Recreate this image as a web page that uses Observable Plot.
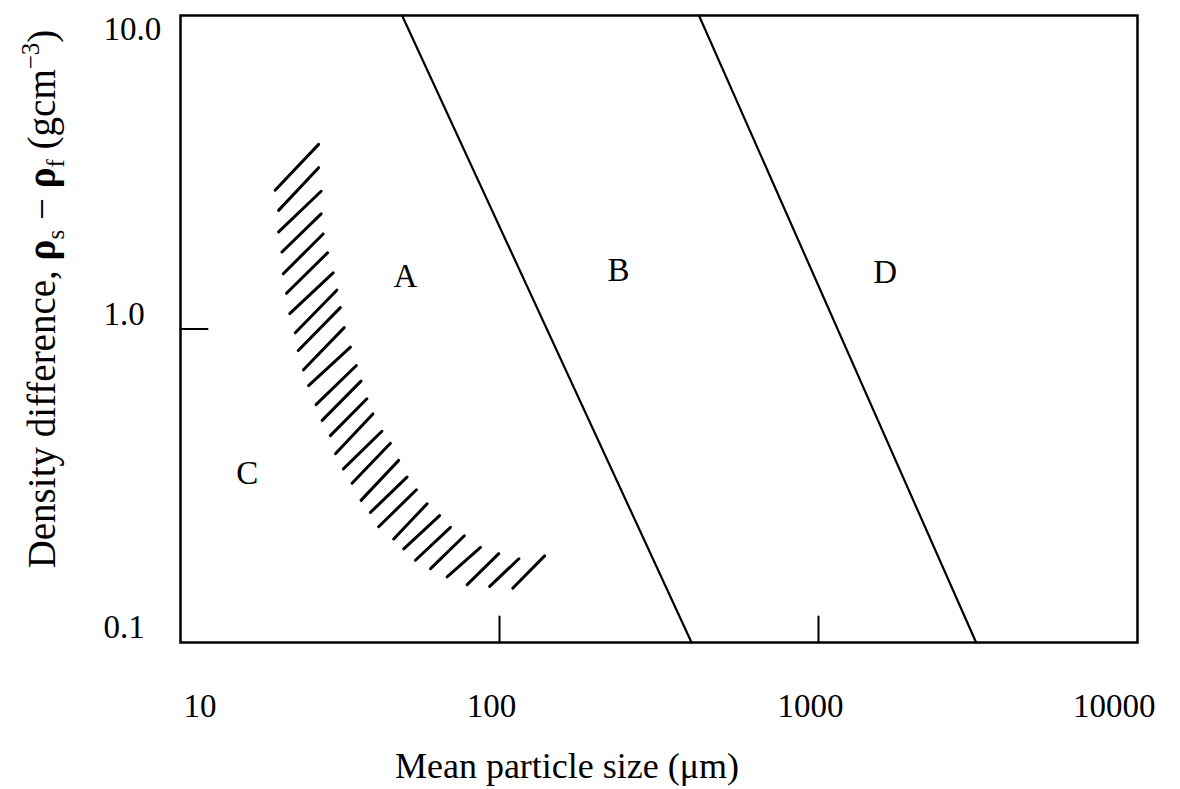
<!DOCTYPE html>
<html><head><meta charset="utf-8">
<script src="https://cdn.jsdelivr.net/npm/d3@7"></script>
<script src="https://cdn.jsdelivr.net/npm/@observablehq/plot@0.6"></script>
<style>body{margin:0;background:#fff;} svg{display:block;}</style>
</head><body><div id="chart"></div>
<script>
// ---- data ----
const xTicks = [100, 1000];
const yTicks = [1.0];
const xTickLabels = [10, 100, 1000, 10000];
const yTickLabels = [10.0, 1.0, 0.1];
const xLabel = "Mean particle size (\u03bcm)";
const yLabel = "Density difference, \u03c1s \u2212 \u03c1f (gcm\u22123)";

// boundary lines A/B and B/D (top point at 10.0, bottom point at 0.1)
const boundaryNames = ["A/B", "B/D"];
const boundaryTopX = [49.5, 422];
const boundaryTopY = [10, 10];
const boundaryBottomX = [400, 3120];
const boundaryBottomY = [0.1, 0.1];

// hatched C/A transition band: each stroke from (x1,y1) to (x2,y2)
const hatchX1 = [19.8,20.3,20.3,20.8,21.0,21.5,22.0,22.9,23.4,24.3,25.2,26.6,27.8,29.5,30.6,32.4,34.5,36.8,39.4,41.8,46.6,50.1,54.5,60.8,68.5,79.2,93.2,110];
const hatchY1 = [2.77,2.39,2.04,1.76,1.50,1.30,1.12,0.973,0.854,0.741,0.660,0.574,0.511,0.457,0.400,0.358,0.322,0.284,0.260,0.234,0.214,0.199,0.183,0.172,0.162,0.153,0.151,0.149];
const hatchX2 = [27.1,27.1,27.6,27.6,28.0,28.9,30.1,30.9,31.7,32.6,34.1,35.6,36.8,38.4,40.1,42.8,45.5,48.3,51.3,54.9,59.3,64.9,70.2,77.6,87.2,99.5,115,138.5];
const hatchY2 = [3.88,3.27,2.75,2.33,2.01,1.75,1.51,1.33,1.17,1.01,0.875,0.765,0.682,0.599,0.536,0.472,0.432,0.381,0.337,0.307,0.277,0.254,0.233,0.219,0.201,0.192,0.185,0.189];

// region letters
const regionNames = ["A", "B", "C", "D"];
const regionX = [50.7, 236, 16.2, 1618];
const regionY = [1.47, 1.54, 0.345, 1.52];

// ---- build tables (two points per straight segment) ----
const boundaryPts = boundaryNames.flatMap((name, i) => [
  {id: name, x: boundaryTopX[i], y: boundaryTopY[i]},
  {id: name, x: boundaryBottomX[i], y: boundaryBottomY[i]}
]);
const hatchPts = hatchX1.flatMap((x1, i) => [
  {id: i, x: x1, y: hatchY1[i]},
  {id: i, x: hatchX2[i], y: hatchY2[i]}
]);
const regions = regionNames.map((name, i) => ({name, x: regionX[i], y: regionY[i]}));

const serif = "'Liberation Serif', 'Times New Roman', serif";
const upTick = {draw(context, l) { context.moveTo(0, 0); context.lineTo(0, -l); }};

const chart = Plot.plot({
  width: 1180, height: 789,
  marginLeft: 180, marginRight: 43, marginTop: 15, marginBottom: 147,
  x: {type: "log", domain: [10, 10000], axis: null},
  y: {type: "log", domain: [0.1, 10], axis: null},
  style: {fontFamily: serif, color: "black", background: "white", overflow: "visible"},
  marks: [
    Plot.frame({stroke: "black", strokeWidth: 2.5}),
    Plot.vectorX(xTicks, {x: d => d, frameAnchor: "bottom", length: 26, anchor: "start", shape: upTick, stroke: "black", strokeWidth: 2}),
    Plot.vectorY(yTicks, {y: d => d, frameAnchor: "left", length: 27, rotate: 90, anchor: "start", shape: upTick, stroke: "black", strokeWidth: 2}),
    Plot.line(boundaryPts, {x: "x", y: "y", z: "id", curve: "linear", stroke: "black", strokeWidth: 2.2}),
    Plot.line(hatchPts, {x: "x", y: "y", z: "id", curve: "linear", stroke: "black", strokeWidth: 3, strokeLinecap: "round"}),
    Plot.text(regions, {x: "x", y: "y", text: "name", fontSize: 33, fill: "black"}),
    // x tick labels
    Plot.text(xTickLabels.slice(0, 1), {x: d => d, text: d => String(d), frameAnchor: "bottom", dy: 74, dx: 3, textAnchor: "start", fontSize: 33, fill: "black"}),
    Plot.text(xTickLabels.slice(1, 3), {x: d => d, text: d => String(d), frameAnchor: "bottom", dy: 74, dx: -8, textAnchor: "middle", fontSize: 33, fill: "black"}),
    Plot.text(xTickLabels.slice(3), {x: d => d, text: d => String(d), frameAnchor: "bottom", dy: 74, dx: 18, textAnchor: "end", fontSize: 33, fill: "black"}),
    // y tick labels
    Plot.text(yTickLabels.slice(0, 1), {y: d => d, text: d => d.toFixed(1), frameAnchor: "left", dx: -77, dy: 14, textAnchor: "start", fontSize: 33, fill: "black"}),
    Plot.text(yTickLabels.slice(1), {y: d => d, text: d => d.toFixed(1), frameAnchor: "left", dx: -77, dy: -15, textAnchor: "start", fontSize: 33, fill: "black"}),
    // axis titles
    Plot.text([xLabel], {text: d => d, frameAnchor: "bottom", dx: -92, dy: 135, textAnchor: "middle", fontSize: 36, fill: "black"}),
    Plot.text([yLabel], {text: d => d, frameAnchor: "left", rotate: -90, dx: -138, dy: -30, textAnchor: "middle", fontSize: 39, fill: "black"})
  ]
});

// sub/superscripts in the y-axis title
const NS = "http://www.w3.org/2000/svg";
for (const t of chart.querySelectorAll("text")) {
  if (t.textContent.startsWith("Density")) {
    t.textContent = "";
    const parts = [
      ["Density difference, ", 0, null, null],
      ["\u03c1", 0, null, "bold"],
      ["s", 9, 25, null],
      [" \u2212 ", -9, null, null],
      ["\u03c1", 0, null, "bold"],
      ["f", 9, 25, null],
      [" (gcm", -9, null, null],
      ["\u22123", -16, 25, null],
      [")", 16, null, null]
    ];
    for (const [s, dy, fs, fw] of parts) {
      const ts = document.createElementNS(NS, "tspan");
      ts.textContent = s;
      if (dy) ts.setAttribute("dy", dy);
      if (fs) ts.setAttribute("font-size", fs);
      if (fw) ts.setAttribute("font-weight", fw);
      t.appendChild(ts);
    }
  }
}
document.getElementById("chart").appendChild(chart);
</script>
</body></html>
